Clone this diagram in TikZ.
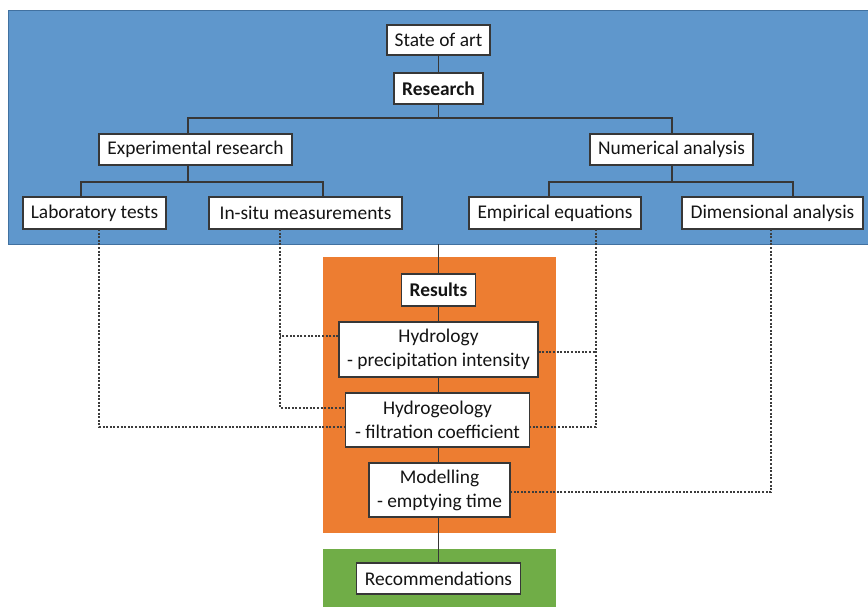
\documentclass[tikz,border=0pt]{standalone}
\usepackage{fontspec}
\setmainfont{Carlito}
\usetikzlibrary{calc}
\definecolor{bgblue}{RGB}{95,151,204}
\definecolor{bgblueedge}{RGB}{65,113,160}
\definecolor{bgorange}{RGB}{237,125,49}
\definecolor{bggreen}{RGB}{112,173,71}
\definecolor{boxedge}{RGB}{55,55,55}
\definecolor{txt}{RGB}{20,20,20}
\definecolor{dotcol}{RGB}{60,60,60}
\tikzset{
  bx/.style={draw=boxedge, line width=1.1pt, fill=white, inner sep=0pt, align=center,
    text=txt, font=\fontsize{19.4}{24}\selectfont},
  bxbold/.style={bx, font=\fontsize{19.4}{24}\selectfont\bfseries},
  tree/.style={draw=boxedge, line width=1.1pt},
  dotline/.style={draw=dotcol, line width=1.2pt, dash pattern=on 2pt off 1.6pt},
}
\begin{document}
\begin{tikzpicture}[x=1pt,y=-1pt]
\useasboundingbox (0,0) rectangle (868,607);
% backgrounds
\fill[bgblue] (8,10) rectangle (868,244);
\draw[bgblueedge, line width=0.8pt] (868,10) -- (8,10) -- (8,244) -- (868,244);
\fill[bgorange] (323,257) rectangle (556,533);
\fill[bggreen] (323,549) rectangle (556,607);

% nodes
\node[bx, minimum width=103, minimum height=30] (soa) at (438.5,40) {State of art};
\node[bxbold, minimum width=89, minimum height=31] (res) at (438.5,88.5) {Research};
\node[bx, minimum width=193, minimum height=31] (exp) at (195.5,149.5) {Experimental research};
\node[bx, minimum width=163, minimum height=31] (num) at (671.5,149.5) {Numerical analysis};
\node[bx, minimum width=143, minimum height=32] (lab) at (94.5,213) {Laboratory tests};
\node[bx, minimum width=193, minimum height=32] (ins) at (305.5,213) {In-situ measurements};
\node[bx, minimum width=172, minimum height=32] (emp) at (555,213) {Empirical equations};
\node[bx, minimum width=181, minimum height=32] (dim) at (772.5,213) {Dimensional analysis};

\node[bxbold, minimum width=74, minimum height=32] (resu) at (438.5,290) {Results};
\node[bx, minimum width=199, minimum height=55] (hyd) at (438.5,349.5) {Hydrology\\- precipitation intensity};
\node[bx, minimum width=184, minimum height=54] (hgeo) at (437.5,420) {Hydrogeology\\- filtration coefficient};
\node[bx, minimum width=141, minimum height=54] (mod) at (439.5,490) {Modelling\\- emptying time};
\node[bx, minimum width=164, minimum height=31] (rec) at (438.5,578.5) {Recommendations};

% tree coordinates
\coordinate (bus1) at (438.5,118);
\coordinate (expin) at (188,134);
\coordinate (numin) at (672,134);
\coordinate (expout) at (188,165);
\coordinate (bus2) at (188,182);
\coordinate (labin) at (81,197);
\coordinate (insin) at (323,197);
\coordinate (numout) at (672,165);
\coordinate (bus3) at (672,182);
\coordinate (empin) at (549,197);
\coordinate (dimin) at (793,197);
\coordinate (bluebot) at (438.5,244);

\draw[tree] (soa.south) -- (res.north);
\draw[tree] (res.south) -- (bus1);
\draw[tree] (expin) |- (bus1) -| (numin);
\draw[tree] (expout) -- (bus2);
\draw[tree] (labin) |- (bus2) -| (insin);
\draw[tree] (numout) -- (bus3);
\draw[tree] (empin) |- (bus3) -| (dimin);
\draw[tree] (bluebot) -- (resu.north);
\draw[tree] (resu.south) -- (hyd.north);
\draw[tree] (hyd.south) -- (hyd.south |- hgeo.north);
\draw[tree] (hyd.south |- hgeo.south) -- (hyd.south |- mod.north);
\draw[tree] (hyd.south |- mod.south) -- (rec.north);

% dotted connectors
\coordinate (labout) at (99,229);
\coordinate (insout) at (280,229);
\coordinate (empout) at (596,229);
\coordinate (dimout) at (771,229);
\coordinate (hydL) at ($(hyd.west)+(0,-13.5)$);
\coordinate (hydR) at ($(hyd.east)+(0,2.5)$);
\draw[dotline] (labout) |- ($(hgeo.west)+(0,7)$);
\draw[dotline] (insout) |- ($(hgeo.west)+(0,-12)$);
\draw[dotline] (hydL) -- (hydL -| insout);
\draw[dotline] (empout) |- ($(hgeo.east)+(0,7)$);
\draw[dotline] (hydR) -- (hydR -| empout);
\draw[dotline] (dimout) |- ($(mod.east)+(0,2)$);
\end{tikzpicture}
\end{document}
